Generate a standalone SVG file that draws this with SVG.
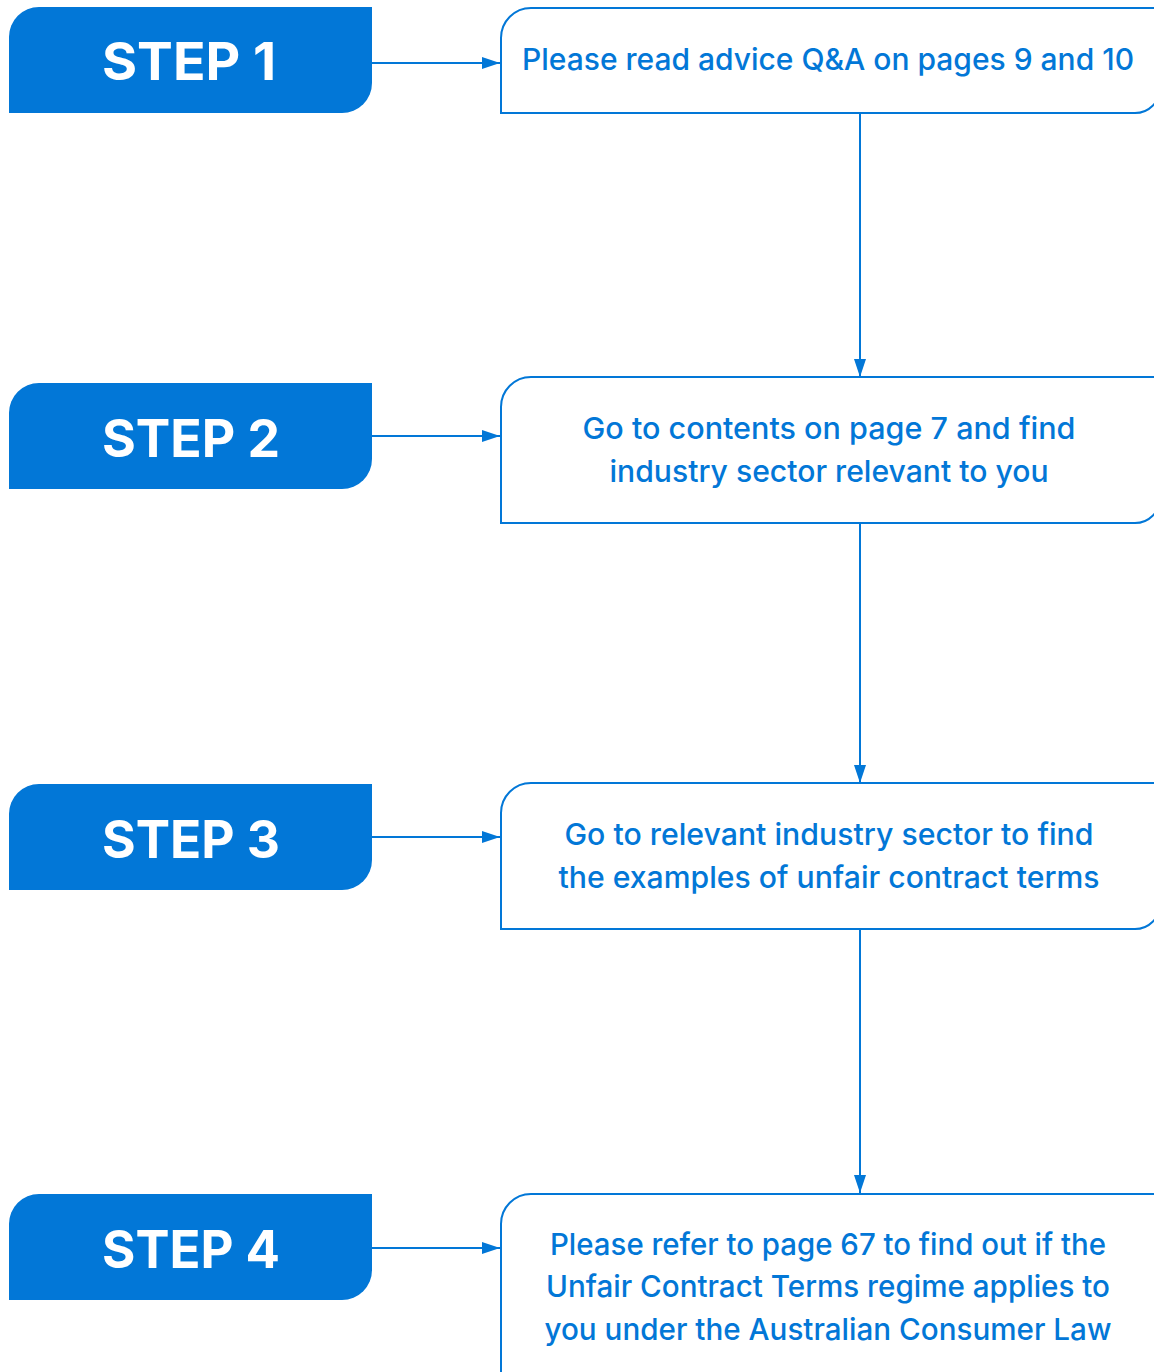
<svg xmlns="http://www.w3.org/2000/svg" width="1154" height="1372" viewBox="0 0 1154 1372">
<defs>
<style>
.step{fill:#0277D7}
.steptxt{fill:#fff;font-family:Inter,"Liberation Sans",Arial,sans-serif;font-weight:bold;font-size:52px;text-anchor:middle}
.box{fill:#fff;stroke:#0277D7;stroke-width:2}
.txt{fill:#0277D7;font-family:Inter,"Liberation Sans",Arial,sans-serif;font-weight:500;font-size:30px;text-anchor:middle}
.conn{stroke:#0277D7;stroke-width:2;fill:none}
</style>
<marker id="ah" viewBox="0 0 18 12" refX="18" refY="6" markerWidth="18" markerHeight="12" markerUnits="userSpaceOnUse" orient="auto">
<path d="M0,0 L18,6 L0,12 Z" fill="#0277D7"/>
</marker>
</defs>
<rect width="1154" height="1372" fill="#fff"/>
<g id="connectors">
<line class="conn" x1="372" y1="63" x2="500" y2="63" marker-end="url(#ah)"/>
<line class="conn" x1="372" y1="436" x2="500" y2="436" marker-end="url(#ah)"/>
<line class="conn" x1="372" y1="837" x2="500" y2="837" marker-end="url(#ah)"/>
<line class="conn" x1="372" y1="1248" x2="500" y2="1248" marker-end="url(#ah)"/>
<line class="conn" x1="860" y1="113" x2="860" y2="377" marker-end="url(#ah)"/>
<line class="conn" x1="860" y1="523" x2="860" y2="783" marker-end="url(#ah)"/>
<line class="conn" x1="860" y1="929" x2="860" y2="1193" marker-end="url(#ah)"/>
</g>
<g id="step1">
<path class="step" d="M9,37 A30,30 0 0 1 39,7 L372,7 L372,83 A30,30 0 0 1 342,113 L9,113 Z"/>
<text class="steptxt" x="189" y="80" textLength="174" lengthAdjust="spacingAndGlyphs">STEP 1</text>
</g>
<g id="step2">
<path class="step" d="M9,413 A30,30 0 0 1 39,383 L372,383 L372,459 A30,30 0 0 1 342,489 L9,489 Z"/>
<text class="steptxt" x="191" y="457" textLength="178" lengthAdjust="spacingAndGlyphs">STEP 2</text>
</g>
<g id="step3">
<path class="step" d="M9,814 A30,30 0 0 1 39,784 L372,784 L372,860 A30,30 0 0 1 342,890 L9,890 Z"/>
<text class="steptxt" x="191" y="858" textLength="178" lengthAdjust="spacingAndGlyphs">STEP 3</text>
</g>
<g id="step4">
<path class="step" d="M9,1224 A30,30 0 0 1 39,1194 L372,1194 L372,1270 A30,30 0 0 1 342,1300 L9,1300 Z"/>
<text class="steptxt" x="191" y="1268" textLength="178" lengthAdjust="spacingAndGlyphs">STEP 4</text>
</g>
<g id="box1">
<path class="box" d="M501,113 L501,38 A30,30 0 0 1 531,8 L1160,8 L1160,88 A25,25 0 0 1 1135,113 Z"/>
<text class="txt" x="828" y="70" textLength="612" lengthAdjust="spacingAndGlyphs">Please read advice Q&amp;A on pages 9 and 10</text>
</g>
<g id="box2">
<path class="box" d="M501,523 L501,407 A30,30 0 0 1 531,377 L1160,377 L1160,498 A25,25 0 0 1 1135,523 Z"/>
<text class="txt" x="829" y="439" textLength="493" lengthAdjust="spacingAndGlyphs">Go to contents on page 7 and find</text>
<text class="txt" x="829" y="482" textLength="439" lengthAdjust="spacingAndGlyphs">industry sector relevant to you</text>
</g>
<g id="box3">
<path class="box" d="M501,929 L501,813 A30,30 0 0 1 531,783 L1160,783 L1160,904 A25,25 0 0 1 1135,929 Z"/>
<text class="txt" x="829" y="845" textLength="529" lengthAdjust="spacingAndGlyphs">Go to relevant industry sector to find</text>
<text class="txt" x="829" y="888" textLength="541" lengthAdjust="spacingAndGlyphs">the examples of unfair contract terms</text>
</g>
<g id="box4">
<path class="box" d="M501,1380 L501,1224 A30,30 0 0 1 531,1194 L1160,1194 L1160,1380"/>
<text class="txt" x="828" y="1255" textLength="556" lengthAdjust="spacingAndGlyphs">Please refer to page 67 to find out if the</text>
<text class="txt" x="828" y="1297" textLength="564" lengthAdjust="spacingAndGlyphs">Unfair Contract Terms regime applies to</text>
<text class="txt" x="828" y="1340" textLength="567" lengthAdjust="spacingAndGlyphs">you under the Australian Consumer Law</text>
</g>
</svg>
